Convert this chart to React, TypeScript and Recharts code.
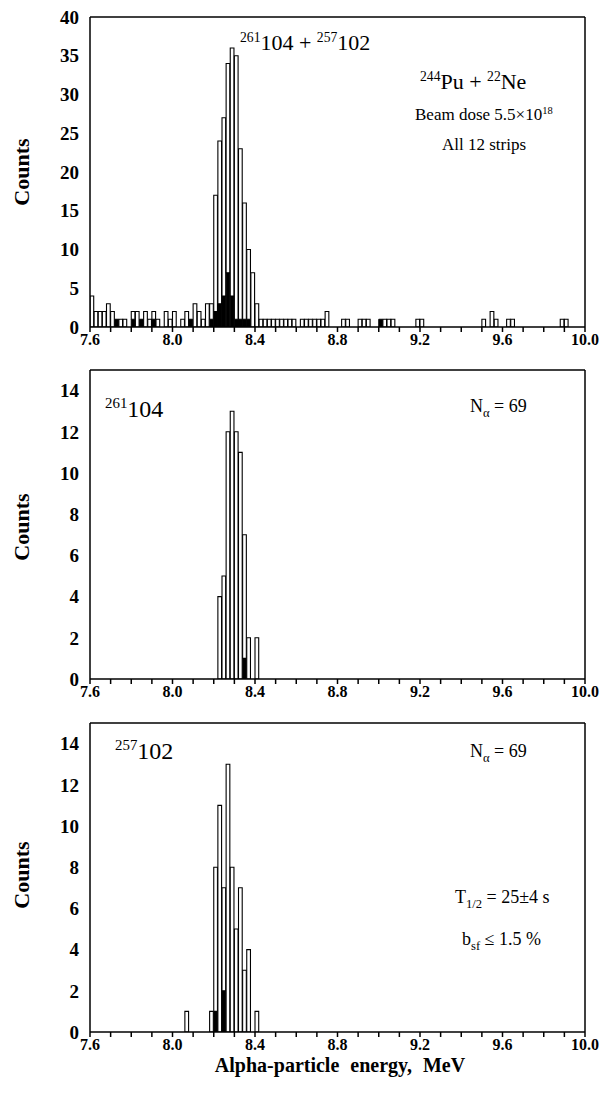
import React from "react";
import { BarChart, Bar, XAxis, YAxis } from "recharts";

// bin starts (MeV), 20 keV bins
const p1Energy = [
  7.6, 7.62, 7.64, 7.66, 7.68, 7.7, 7.72, 7.74, 7.76, 7.8, 7.82, 7.84, 7.86, 7.88, 7.9, 7.92, 7.96, 7.98, 8.0, 8.04, 8.06, 8.08,
  8.1, 8.12, 8.14, 8.16, 8.18, 8.2, 8.22, 8.24, 8.26, 8.28, 8.3, 8.32, 8.34, 8.36, 8.38, 8.4, 8.42, 8.44, 8.46, 8.48, 8.5,
  8.52, 8.54, 8.56, 8.58, 8.62, 8.64, 8.66, 8.68, 8.7, 8.72, 8.74, 8.82, 8.84, 8.9, 8.92, 8.94, 9.0, 9.02, 9.04, 9.06, 9.18,
  9.2, 9.5, 9.54, 9.56, 9.62, 9.64, 9.88, 9.9,
];
const p1Counts = [
  4, 2, 2, 2, 3, 2, 1, 1, 1, 2, 2, 1, 2, 1, 2, 1, 2, 1, 2, 1, 2, 1,
  3, 2, 1, 3, 3, 17, 24, 27, 34, 36, 35, 23, 16, 10, 7, 3, 1, 1, 1, 1, 1,
  1, 1, 1, 1, 1, 1, 1, 1, 1, 1, 2, 1, 1, 1, 1, 1, 1, 1, 1, 1, 1,
  1, 1, 2, 1, 1, 1, 1, 1,
];
const p1Black = [
  0, 0, 0, 0, 0, 0, 1, 0, 0, 1, 0, 1, 0, 0, 1, 0, 0, 0, 0, 0, 0, 1,
  0, 0, 0, 0, 1, 2, 3, 4, 7, 4, 1, 1, 1, 1, 0, 0, 0, 0, 0, 0, 0,
  0, 0, 0, 0, 0, 0, 0, 0, 0, 0, 0, 0, 0, 0, 0, 0, 1, 0, 0, 0, 0,
  0, 0, 0, 0, 0, 0, 0, 0,
];

const p2Energy = [8.22, 8.24, 8.26, 8.28, 8.3, 8.32, 8.34, 8.36, 8.4];
const p2Counts = [4, 5, 12, 13, 12, 11, 7, 2, 2];
const p2Black = [0, 0, 0, 0, 0, 0, 1, 0, 0];

const p3Energy = [8.06, 8.18, 8.2, 8.22, 8.24, 8.26, 8.28, 8.3, 8.32, 8.34, 8.36, 8.4];
const p3Counts = [1, 1, 8, 11, 7, 13, 8, 5, 7, 3, 4, 1];
const p3Black = [0, 0, 1, 0, 2, 0, 0, 0, 0, 0, 0, 0];

const xTicks = [
  7.6, 7.7, 7.8, 7.9, 8.0, 8.1, 8.2, 8.3, 8.4, 8.5, 8.6, 8.7, 8.8, 8.9, 9.0, 9.1, 9.2, 9.3, 9.4, 9.5, 9.6, 9.7, 9.8, 9.9, 10.0,
];
const xLabelled = [7.6, 8.0, 8.4, 8.8, 9.2, 9.6, 10.0];
const y1Major = [0, 5, 10, 15, 20, 25, 30, 35, 40];
const y23Major = [0, 2, 4, 6, 8, 10, 12, 14];

const BIN = 0.02;
const W = 603;
const LEFT = 90;
const RIGHT = 18;
const BAR_PX = ((W - LEFT - RIGHT) / 2.4) * BIN;
const FONT = "'Liberation Serif', 'Times New Roman', serif";

function rows(energy: number[], counts: number[], black: number[]) {
  return energy.map((e, i) => ({
    x: e + BIN / 2,
    black: black[i],
    rest: counts[i] - black[i],
  }));
}

function intTicks(max: number) {
  const t: number[] = [];
  for (let i = 0; i <= max; i++) t.push(i);
  return t;
}

type PanelProps = {
  top: number;
  plotTop: number;
  plotBottom: number;
  yMax: number;
  yMajor: number[];
  data: { x: number; black: number; rest: number }[];
};

function Panel({ top, plotTop, plotBottom, yMax, yMajor, data }: PanelProps) {
  const h = plotBottom - top + 30;
  const minor = intTicks(Math.floor(yMax));
  const tickStyle = { fontFamily: FONT, fontWeight: 700, fill: "#000" };
  return (
    <div style={{ position: "absolute", left: 0, top }}>
      <BarChart
        width={W}
        height={h}
        data={data}
        margin={{ top: plotTop - top, right: RIGHT, left: 0, bottom: 0 }}
        barCategoryGap={0}
        barGap={0}
      >
        <XAxis
          dataKey="x"
          type="number"
          domain={[7.6, 10.0]}
          ticks={xTicks}
          interval={0}
          allowDataOverflow
          height={30}
          stroke="#000"
          strokeWidth={1.5}
          tickSize={5}
          tickMargin={2}
          tick={{ ...tickStyle, fontSize: 16 }}
          tickFormatter={(v: number) => (xLabelled.some((t) => Math.abs(t - v) < 1e-6) ? v.toFixed(1) : "")}
        />
        <XAxis
          xAxisId="top"
          orientation="top"
          mirror
          type="number"
          domain={[7.6, 10.0]}
          ticks={xTicks}
          interval={0}
          allowDataOverflow
          stroke="#000"
          strokeWidth={1.5}
          tickSize={5}
          tick={false}
        />
        <YAxis
          type="number"
          domain={[0, yMax]}
          ticks={yMajor}
          interval={0}
          allowDataOverflow
          width={LEFT}
          stroke="#000"
          strokeWidth={1.5}
          tickLine={false}
          tickMargin={5}
          tick={{ ...tickStyle, fontSize: 19 }}
        />
        <YAxis
          yAxisId="minorL"
          mirror
          type="number"
          domain={[0, yMax]}
          ticks={minor}
          interval={0}
          allowDataOverflow
          axisLine={false}
          stroke="#000"
          tickSize={5}
          tick={false}
        />
        <YAxis
          yAxisId="right"
          orientation="right"
          mirror
          type="number"
          domain={[0, yMax]}
          ticks={minor}
          interval={0}
          allowDataOverflow
          stroke="#000"
          strokeWidth={1.5}
          tickSize={5}
          tick={false}
        />
        <Bar dataKey="black" stackId="h" fill="#000" stroke="#000" strokeWidth={1} barSize={BAR_PX} isAnimationActive={false} />
        <Bar dataKey="rest" stackId="h" fill="#fff" stroke="#000" strokeWidth={1.1} barSize={BAR_PX} isAnimationActive={false} />
      </BarChart>
    </div>
  );
}

const txt: React.CSSProperties = { position: "absolute", fontFamily: FONT, color: "#000", whiteSpace: "nowrap", lineHeight: 1 };
const sup: React.CSSProperties = { fontSize: "0.62em", verticalAlign: "0.6em" };

function Counts({ cy }: { cy: number }) {
  return (
    <div
      style={{
        ...txt,
        left: 22,
        top: cy,
        fontSize: 22,
        fontWeight: 700,
        transform: "translate(-50%, -50%) rotate(-90deg)",
      }}
    >
      Counts
    </div>
  );
}

export default function App() {
  return (
    <div style={{ position: "absolute", left: 0, top: 0, width: W, height: 1099, background: "#fff", overflow: "hidden" }}>
      <Panel top={0} plotTop={17} plotBottom={327} yMax={40} yMajor={y1Major} data={rows(p1Energy, p1Counts, p1Black)} />
      <Panel top={355} plotTop={370} plotBottom={679} yMax={15} yMajor={y23Major} data={rows(p2Energy, p2Counts, p2Black)} />
      <Panel top={705} plotTop={723} plotBottom={1032} yMax={15} yMajor={y23Major} data={rows(p3Energy, p3Counts, p3Black)} />

      <Counts cy={172} />
      <Counts cy={527} />
      <Counts cy={875} />

      <div style={{ ...txt, left: 240, top: 31, fontSize: 22 }}>
        <span style={sup}>261</span>104 + <span style={sup}>257</span>102
      </div>
      <div style={{ ...txt, left: 420, top: 70, fontSize: 22 }}>
        <span style={sup}>244</span>Pu + <span style={sup}>22</span>Ne
      </div>
      <div style={{ ...txt, left: 415, top: 106, fontSize: 17 }}>
        Beam dose 5.5×10<span style={sup}>18</span>
      </div>
      <div style={{ ...txt, left: 442, top: 136, fontSize: 17 }}>All 12 strips</div>

      <div style={{ ...txt, left: 105, top: 396, fontSize: 24 }}>
        <span style={sup}>261</span>104
      </div>
      <div style={{ ...txt, left: 470, top: 397, fontSize: 18 }}>
        N<sub style={{ fontSize: "0.7em" }}>α</sub> = 69
      </div>

      <div style={{ ...txt, left: 115, top: 738, fontSize: 24 }}>
        <span style={sup}>257</span>102
      </div>
      <div style={{ ...txt, left: 470, top: 742, fontSize: 18 }}>
        N<sub style={{ fontSize: "0.7em" }}>α</sub> = 69
      </div>
      <div style={{ ...txt, left: 455, top: 888, fontSize: 18 }}>
        T<sub style={{ fontSize: "0.7em" }}>1/2</sub> = 25±4 s
      </div>
      <div style={{ ...txt, left: 462, top: 930, fontSize: 18 }}>
        b<sub style={{ fontSize: "0.7em" }}>sf</sub> ≤ 1.5 %
      </div>

      <div style={{ ...txt, left: 340, top: 1065, fontSize: 20, fontWeight: 700, transform: "translate(-50%, -50%)", wordSpacing: 6 }}>
        Alpha-particle energy, MeV
      </div>
    </div>
  );
}
